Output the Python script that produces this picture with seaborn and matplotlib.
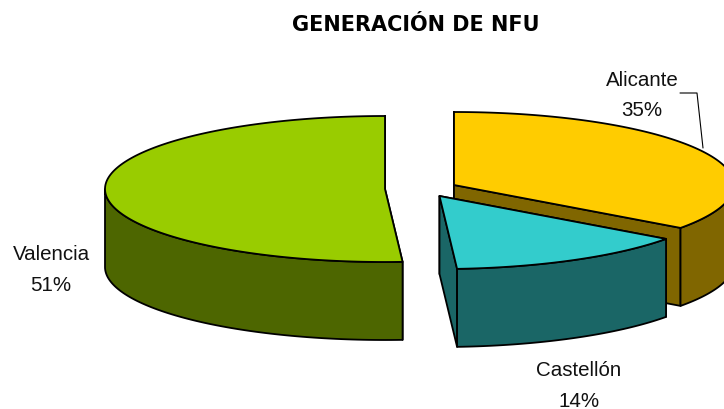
import numpy as np
import matplotlib
matplotlib.use("Agg")
import matplotlib.pyplot as plt
import seaborn as sns

categories = ["Alicante", "Castellón", "Valencia"]
values = [35, 14, 51]
top_colors = ["#FFCC00", "#33CCCC", "#99CC00"]
side_colors = ["#806600", "#1A6666", "#4D6600"]
title = "GENERACIÓN DE NFU"

sns.set_theme(style="white")
plt.rcParams["font.family"] = ["Liberation Sans", "DejaVu Sans"]

W, H = 724, 410
fig = plt.figure(figsize=(W / 100, H / 100), dpi=100)
ax = fig.add_axes([0, 0, 1, 1])
ax.set_xlim(0, W)
ax.set_ylim(H, 0)
ax.axis("off")

RX, RY, DEPTH = 280, 73, 78
apexes = [(454, 186), (439.5, 197), (385, 190)]
label_pos = [(642, 95), (579, 386), (51, 270)]


def pt(c, ang):
    a = np.radians(ang)
    return c[0] + RX * np.sin(a), c[1] - RY * np.cos(a)


def poly(xs, ys, col, z):
    ax.fill(xs, ys, facecolor=col, edgecolor="black", lw=1.3, joinstyle="round", zorder=z)


bounds = np.concatenate([[0], np.cumsum(values)]) * 360 / sum(values)
# draw back to front: Valencia and Alicante first, Castellón in front
for i in [2, 0, 1]:
    c = apexes[i]
    a0, a1 = bounds[i], bounds[i + 1]
    th = np.linspace(a0, a1, 160)
    ex, ey = pt(c, th)
    z = 2 + (i == 1) * 4
    # flat cut walls
    for edge in (a0, a1):
        px, py = pt(c, edge)
        poly([c[0], px, px, c[0]], [c[1], py, py + DEPTH, c[1] + DEPTH], side_colors[i], z)
    # curved outer wall: only the front half of the ellipse is visible
    front = (th >= 90) & (th <= 270)
    if front.any():
        fx, fy = ex[front], ey[front]
        poly(np.r_[fx, fx[::-1]], np.r_[fy, fy[::-1] + DEPTH], side_colors[i], z + 1)
    # top face
    poly(np.r_[c[0], ex], np.r_[c[1], ey], top_colors[i], z + 2)

for name, v, (x, y) in zip(categories, values, label_pos):
    ax.text(x, y - 15, name, ha="center", va="center", fontsize=14.8, color="#111111", zorder=10)
    ax.text(x, y + 15.5, f"{v}%", ha="center", va="center", fontsize=14.8, color="#111111", zorder=10)

ax.plot([680, 697, 703], [94, 94, 149], color="black", lw=0.8, zorder=9)
ax.text(415.5, 25, title, ha="center", va="center", fontsize=15, fontweight="bold",
        family=["DejaVu Sans"], color="black")

fig.savefig("out.png", dpi=100, facecolor="white")
